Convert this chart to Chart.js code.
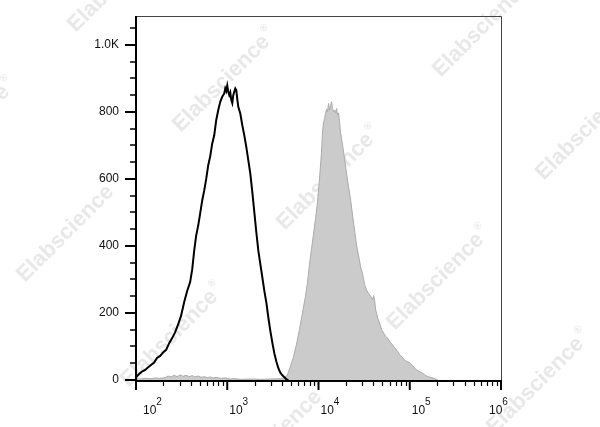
<!DOCTYPE html>
<html>
<head>
<meta charset="utf-8">
<script src="https://cdn.jsdelivr.net/npm/chart.js@4/dist/chart.umd.min.js"></script>
<style>
body{margin:0;background:#fff}
canvas{display:block}
</style>
</head>
<body>
<canvas id="chart" width="600" height="427"></canvas>
<script>

// unstained / isotype control (black outline)
const controlX=[100,108,116,126,136,146,158,170,184,198,214,231,249,268,289,312,337,363,392,413,434,456,480,505,531,559,588,618,651,684,720,757,796,838,881,927,951,975,1000,1026,1052,1079,1107,1135,1164,1194,1225,1256,1288,1321,1390,1462,1538,1618,1702,1791,1884,1981,2084,2193,2307,2427,2552,2685,2825,2972,3126,3281,3451,3631,3819,4018,4227,4446,4677]
const controlCounts=[8,18,25,30,38,45,52,66,72,82,90,110,125,142,165,192,232,265,292,330,385,430,460,497,535,565,600,640,668,705,730,775,805,830,845,855,870,862,878,860,850,858,835,826,850,860,870,865,838,815,795,760,730,695,655,615,560,500,440,385,345,305,265,230,185,145,110,80,55,35,22,14,8,2,0]

// stained sample (grey filled)
const stainedX=[100,111,126,143,162,184,208,225,242,262,282,304,329,354,382,413,445,480,518,559,603,651,702,757,838,951,1079,1225,1390,1790,2307,2972,3819,4227,4560,4920,5309,5728,6181,6669,7196,7570,7963,8377,8812,9270,9751,10257,10790,11067,11350,11641,11940,12246,12560,12882,13213,13552,13899,14256,14621,14997,15381,15776,16181,16596,17022,17458,18366,19321,20325,21382,22494,23663,24894,26188,27549,28982,30488,31997,33660,35410,37251,39188,40194,41226,42284,44483,46796,49229,51789,54482,57315,60295,63430,66728,70197,73847,77687,81726,85975,92690,100000,107860,116410,125610,135480,146210,157750,170200,183650,203240]
const stainedCounts=[4,3,5,4,6,5,7,12,9,14,10,15,11,14,10,13,9,12,8,10,7,9,6,8,5,6,3,4,2,3,2,3,4,6,15,40,68,105,150,200,250,290,345,390,435,480,530,600,680,740,767,780,795,808,800,825,805,818,830,810,800,805,798,810,790,797,770,737,700,660,615,575,537,490,445,400,370,337,315,285,268,258,250,240,252,238,210,185,170,150,140,130,125,115,108,100,92,85,75,70,62,55,52,42,32,26,22,15,10,8,5,0]

const yTicks=[0,200,400,600,800,1000]
const yTickLabels=["0","200","400","600","800","1.0K"]
const xDecades=[2,3,4,5,6]

const font='"Liberation Sans", Arial, sans-serif'

const marks=[[-35,130],[69,230],[173,335],[277,435],[120,-20],[225,80],[329,178],[439,278],[539,382],[485,25],[588,128]]

const watermark={
id:"watermark",
beforeDatasetsDraw(chart){
let ctx=chart.ctx
ctx.save()
ctx.fillStyle="#e8e8e8"
ctx.textBaseline="middle"
marks.forEach(m=>{
ctx.save()
ctx.translate(m[0],m[1])
ctx.rotate(-45*Math.PI/180)
ctx.font="bold 22px "+font
let w=ctx.measureText("Elabscience").width
ctx.textAlign="left"
ctx.fillText("Elabscience",-w/2-5,0)
ctx.font="bold 10px "+font
ctx.fillText("®",w/2-3,-9)
ctx.restore()
})
ctx.restore()
}
}

const axes={
id:"axes",
afterDraw(chart){
let ctx=chart.ctx
let a=chart.chartArea
let xs=chart.scales.x
let ys=chart.scales.y
ctx.save()

// frame
ctx.strokeStyle="#444"
ctx.lineWidth=1
ctx.beginPath()
ctx.moveTo(a.left,a.top+0.5)
ctx.lineTo(a.right+0.5,a.top+0.5)
ctx.lineTo(a.right+0.5,a.bottom)
ctx.stroke()

ctx.strokeStyle="#000"
ctx.lineWidth=2
ctx.beginPath()
ctx.moveTo(a.left,a.top)
ctx.lineTo(a.left,a.bottom+1)
ctx.lineTo(a.right+1,a.bottom+1)
ctx.stroke()

// y ticks
for(let v=50;v<=1050;v+=50){
let y=Math.round(ys.getPixelForValue(v))
ctx.lineWidth=1.5
ctx.beginPath()
ctx.moveTo(a.left-6,y)
ctx.lineTo(a.left,y)
ctx.stroke()
}
ctx.fillStyle="#111"
ctx.font="12px "+font
ctx.textAlign="right"
ctx.textBaseline="middle"
yTicks.forEach((v,i)=>{
let y=Math.round(ys.getPixelForValue(v))
ctx.lineWidth=2
ctx.beginPath()
ctx.moveTo(a.left-11,y)
ctx.lineTo(a.left,y)
ctx.stroke()
ctx.fillText(yTickLabels[i],119,y)
})

// x ticks
xDecades.forEach((e,i)=>{
let base=Math.pow(10,e)
let x=xs.getPixelForValue(base)
ctx.lineWidth=2
ctx.beginPath()
ctx.moveTo(x,a.bottom)
ctx.lineTo(x,a.bottom+10)
ctx.stroke()
if(i<xDecades.length-1){
for(let k=2;k<=9;k++){
let xm=Math.round(xs.getPixelForValue(base*k))+0.5
ctx.lineWidth=1.2
ctx.beginPath()
ctx.moveTo(xm,a.bottom)
ctx.lineTo(xm,a.bottom+6)
ctx.stroke()
}
}
let lx=x+2
if(i==0) lx=a.left+7
if(i==xDecades.length-1) lx=x-12
ctx.textAlign="left"
ctx.textBaseline="alphabetic"
ctx.font="12px "+font
ctx.fillText("10",lx,414)
let w=ctx.measureText("10").width
ctx.font="10px "+font
ctx.fillText(String(e),lx+w,405)
})

ctx.restore()
}
}

new Chart(document.getElementById("chart"),{
type:"line",
data:{
datasets:[
{
label:"control",
data:controlX.map((x,i)=>({x:x,y:controlCounts[i]})),
borderColor:"#000",
borderWidth:2,
pointRadius:0,
fill:false,
tension:0
},
{
label:"stained",
data:stainedX.map((x,i)=>({x:x,y:stainedCounts[i]})),
borderColor:"#aaa",
backgroundColor:"#cbcbcb",
borderWidth:1,
pointRadius:0,
fill:"origin",
tension:0
}
]
},
options:{
responsive:false,
animation:false,
devicePixelRatio:1,
layout:{padding:{left:136,top:16,right:99,bottom:47}},
plugins:{legend:{display:false},tooltip:{enabled:false}},
scales:{
x:{type:"logarithmic",min:100,max:1000000,display:false},
y:{type:"linear",min:0,max:1086,display:false}
}
},
plugins:[watermark,axes]
})

</script>
</body>
</html>
